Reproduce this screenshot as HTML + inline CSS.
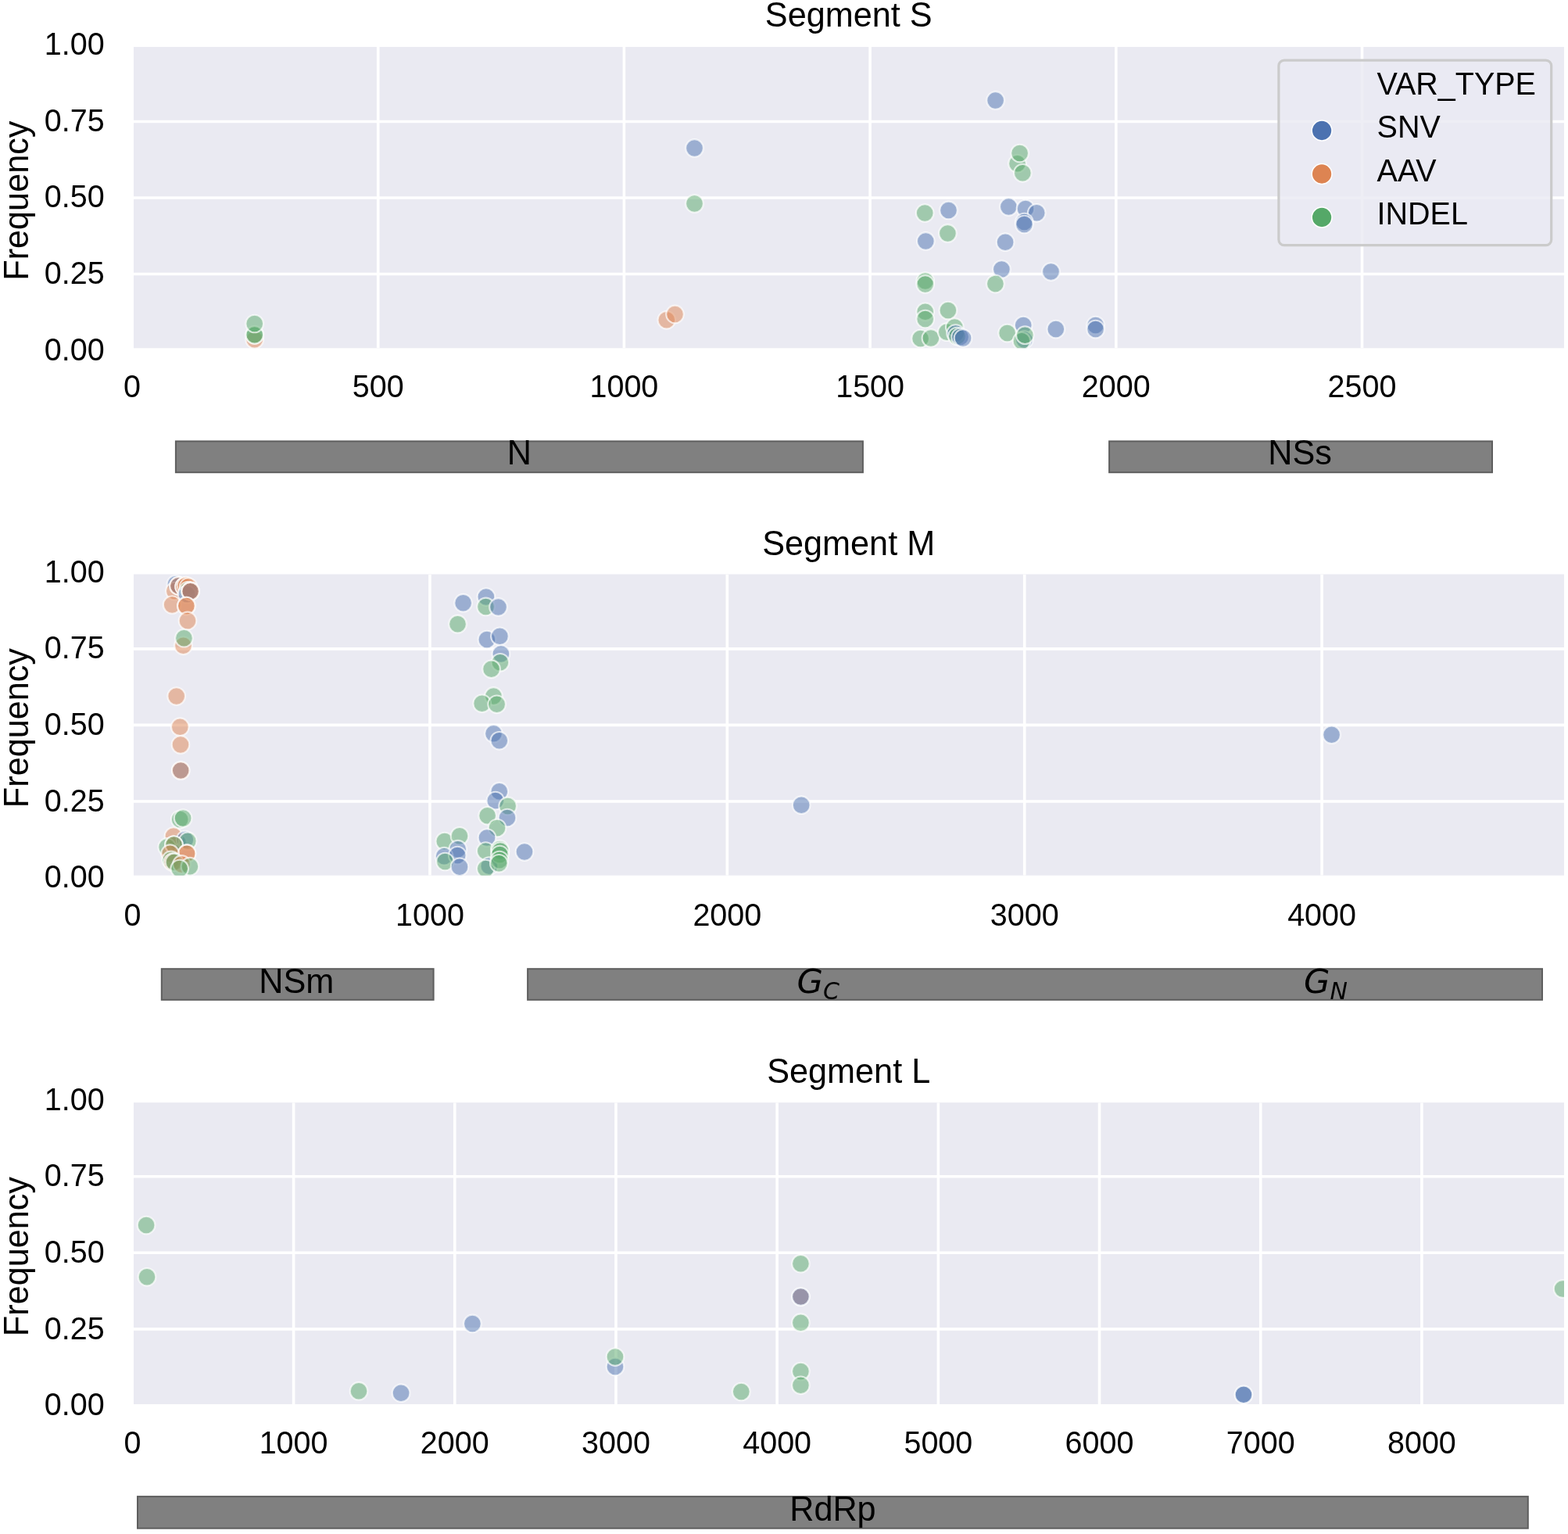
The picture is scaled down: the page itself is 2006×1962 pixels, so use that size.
<!DOCTYPE html>
<html><head><meta charset="utf-8"><title>Segments</title>
<style>html,body{margin:0;padding:0;background:#fff;}svg{display:block;}</style>
</head><body>
<svg width="2006" height="1962" viewBox="0 0 2006 1962">
<defs>
<clipPath id="c0"><rect x="171" y="60" width="1830" height="385.3"/></clipPath>
<clipPath id="c1"><rect x="171" y="734.5" width="1830" height="385.2"/></clipPath>
<clipPath id="c2"><rect x="171" y="1410.2" width="1830" height="385.8"/></clipPath>
</defs>
<rect width="2006" height="1962" fill="#fff"/>
<rect x="171" y="60" width="1830" height="385.3" fill="#EAEAF2"/>
<g clip-path="url(#c0)" stroke="#fff" stroke-width="3.6">
<line x1="483.7" y1="60" x2="483.7" y2="445.3"/>
<line x1="798.4" y1="60" x2="798.4" y2="445.3"/>
<line x1="1113.1" y1="60" x2="1113.1" y2="445.3"/>
<line x1="1427.8" y1="60" x2="1427.8" y2="445.3"/>
<line x1="1742.5" y1="60" x2="1742.5" y2="445.3"/>
<line x1="171" y1="350.55" x2="2001" y2="350.55"/>
<line x1="171" y1="253" x2="2001" y2="253"/>
<line x1="171" y1="155.45" x2="2001" y2="155.45"/>
</g>
<g clip-path="url(#c0)" fill-opacity="0.5" stroke="#fff" stroke-opacity="0.7" stroke-width="2.1">
<circle cx="325.7" cy="434.3" r="11.3" fill="#DD8452"/>
<circle cx="325.7" cy="428" r="11.3" fill="#55A868"/>
<circle cx="325.7" cy="428.6" r="11.3" fill="#55A868"/>
<circle cx="325.7" cy="414" r="11.3" fill="#55A868"/>
<circle cx="852.8" cy="409.3" r="11.3" fill="#DD8452"/>
<circle cx="863.5" cy="401.9" r="11.3" fill="#DD8452"/>
<circle cx="888.5" cy="189.4" r="11.3" fill="#4C72B0"/>
<circle cx="888.5" cy="260.4" r="11.3" fill="#55A868"/>
<circle cx="1183.2" cy="272.5" r="11.3" fill="#55A868"/>
<circle cx="1213.5" cy="268.9" r="11.3" fill="#4C72B0"/>
<circle cx="1212.4" cy="298.4" r="11.3" fill="#55A868"/>
<circle cx="1184.3" cy="308.4" r="11.3" fill="#4C72B0"/>
<circle cx="1183.7" cy="359.5" r="11.3" fill="#55A868"/>
<circle cx="1183.7" cy="363.5" r="11.3" fill="#55A868"/>
<circle cx="1183.7" cy="398.8" r="11.3" fill="#55A868"/>
<circle cx="1183.7" cy="408.1" r="11.3" fill="#55A868"/>
<circle cx="1212.9" cy="397" r="11.3" fill="#55A868"/>
<circle cx="1177.6" cy="433" r="11.3" fill="#55A868"/>
<circle cx="1190.9" cy="432.4" r="11.3" fill="#55A868"/>
<circle cx="1211.3" cy="424.7" r="11.3" fill="#55A868"/>
<circle cx="1221.3" cy="418.6" r="11.3" fill="#55A868"/>
<circle cx="1222.6" cy="426.5" r="11.3" fill="#4C72B0"/>
<circle cx="1224.5" cy="430" r="11.3" fill="#55A868"/>
<circle cx="1228.5" cy="431" r="11.3" fill="#4C72B0"/>
<circle cx="1232" cy="432.5" r="11.3" fill="#4C72B0"/>
<circle cx="1273.6" cy="128.4" r="11.3" fill="#4C72B0"/>
<circle cx="1301.5" cy="209.2" r="11.3" fill="#55A868"/>
<circle cx="1304.6" cy="196.1" r="11.3" fill="#55A868"/>
<circle cx="1308.3" cy="221.3" r="11.3" fill="#55A868"/>
<circle cx="1290.4" cy="264.4" r="11.3" fill="#4C72B0"/>
<circle cx="1312" cy="267" r="11.3" fill="#4C72B0"/>
<circle cx="1326.2" cy="272.3" r="11.3" fill="#4C72B0"/>
<circle cx="1310.4" cy="284" r="11.3" fill="#4C72B0"/>
<circle cx="1310.4" cy="287" r="11.3" fill="#4C72B0"/>
<circle cx="1286.1" cy="309.7" r="11.3" fill="#4C72B0"/>
<circle cx="1281.4" cy="344.6" r="11.3" fill="#4C72B0"/>
<circle cx="1344.5" cy="347.6" r="11.3" fill="#4C72B0"/>
<circle cx="1273.4" cy="363.1" r="11.3" fill="#55A868"/>
<circle cx="1309.2" cy="416.1" r="11.3" fill="#4C72B0"/>
<circle cx="1288.6" cy="426.1" r="11.3" fill="#55A868"/>
<circle cx="1310.4" cy="434.5" r="11.3" fill="#4C72B0"/>
<circle cx="1307" cy="436.2" r="11.3" fill="#55A868"/>
<circle cx="1311.3" cy="428.7" r="11.3" fill="#55A868"/>
<circle cx="1350.8" cy="421.1" r="11.3" fill="#4C72B0"/>
<circle cx="1401.6" cy="416.1" r="11.3" fill="#4C72B0"/>
<circle cx="1401.6" cy="421.1" r="11.3" fill="#4C72B0"/>
</g>
<text transform="translate(169 508.4) scale(1 1.04)" font-family="Liberation Sans, Arial, sans-serif" font-size="39.5" text-anchor="middle">0</text>
<text transform="translate(483.7 508.4) scale(1 1.04)" font-family="Liberation Sans, Arial, sans-serif" font-size="39.5" text-anchor="middle">500</text>
<text transform="translate(798.4 508.4) scale(1 1.04)" font-family="Liberation Sans, Arial, sans-serif" font-size="39.5" text-anchor="middle">1000</text>
<text transform="translate(1113.1 508.4) scale(1 1.04)" font-family="Liberation Sans, Arial, sans-serif" font-size="39.5" text-anchor="middle">1500</text>
<text transform="translate(1427.8 508.4) scale(1 1.04)" font-family="Liberation Sans, Arial, sans-serif" font-size="39.5" text-anchor="middle">2000</text>
<text transform="translate(1742.5 508.4) scale(1 1.04)" font-family="Liberation Sans, Arial, sans-serif" font-size="39.5" text-anchor="middle">2500</text>
<text transform="translate(133.7 70.1) scale(1 1.04)" font-family="Liberation Sans, Arial, sans-serif" font-size="39.5" text-anchor="end">1.00</text>
<text transform="translate(133.7 167.75) scale(1 1.04)" font-family="Liberation Sans, Arial, sans-serif" font-size="39.5" text-anchor="end">0.75</text>
<text transform="translate(133.7 265.4) scale(1 1.04)" font-family="Liberation Sans, Arial, sans-serif" font-size="39.5" text-anchor="end">0.50</text>
<text transform="translate(133.7 363.05) scale(1 1.04)" font-family="Liberation Sans, Arial, sans-serif" font-size="39.5" text-anchor="end">0.25</text>
<text transform="translate(133.7 460.7) scale(1 1.04)" font-family="Liberation Sans, Arial, sans-serif" font-size="39.5" text-anchor="end">0.00</text>
<text transform="translate(1085.7 34.4) scale(1 1.04)" font-family="Liberation Sans, Arial, sans-serif" font-size="43.2" text-anchor="middle">Segment S</text>
<text transform="translate(36.1 256.65) rotate(-90) scale(1 1.04)" font-family="Liberation Sans, Arial, sans-serif" font-size="43.2" text-anchor="middle">Frequency</text>
<rect x="171" y="734.5" width="1830" height="385.2" fill="#EAEAF2"/>
<g clip-path="url(#c1)" stroke="#fff" stroke-width="3.6">
<line x1="549.97" y1="734.5" x2="549.97" y2="1119.7"/>
<line x1="930.34" y1="734.5" x2="930.34" y2="1119.7"/>
<line x1="1310.71" y1="734.5" x2="1310.71" y2="1119.7"/>
<line x1="1691.08" y1="734.5" x2="1691.08" y2="1119.7"/>
<line x1="171" y1="1024.95" x2="2001" y2="1024.95"/>
<line x1="171" y1="927.4" x2="2001" y2="927.4"/>
<line x1="171" y1="829.85" x2="2001" y2="829.85"/>
</g>
<g clip-path="url(#c1)" fill-opacity="0.5" stroke="#fff" stroke-opacity="0.7" stroke-width="2.1">
<circle cx="224.9" cy="747.3" r="11.3" fill="#4C72B0"/>
<circle cx="223.4" cy="756" r="11.3" fill="#DD8452"/>
<circle cx="228.4" cy="749.2" r="11.3" fill="#4C72B0"/>
<circle cx="228.4" cy="749.2" r="11.3" fill="#DD8452"/>
<circle cx="235.6" cy="750.2" r="11.3" fill="#DD8452"/>
<circle cx="235.6" cy="750.2" r="11.3" fill="#DD8452"/>
<circle cx="238" cy="749" r="11.3" fill="#DD8452"/>
<circle cx="241" cy="750.5" r="11.3" fill="#DD8452"/>
<circle cx="240.7" cy="755.2" r="11.3" fill="#55A868"/>
<circle cx="239.1" cy="760" r="11.3" fill="#4C72B0"/>
<circle cx="243.6" cy="756.2" r="11.3" fill="#4C72B0"/>
<circle cx="243.6" cy="756.2" r="11.3" fill="#DD8452"/>
<circle cx="243.6" cy="756.2" r="11.3" fill="#4C72B0"/>
<circle cx="243.6" cy="756.2" r="11.3" fill="#DD8452"/>
<circle cx="220.2" cy="773.5" r="11.3" fill="#DD8452"/>
<circle cx="238.4" cy="775.1" r="11.3" fill="#DD8452"/>
<circle cx="238.4" cy="775.1" r="11.3" fill="#DD8452"/>
<circle cx="240" cy="793.9" r="11.3" fill="#DD8452"/>
<circle cx="234.5" cy="825.8" r="11.3" fill="#DD8452"/>
<circle cx="235.4" cy="816.2" r="11.3" fill="#55A868"/>
<circle cx="225.7" cy="890.6" r="11.3" fill="#DD8452"/>
<circle cx="230.3" cy="929.7" r="11.3" fill="#DD8452"/>
<circle cx="231" cy="952.4" r="11.3" fill="#DD8452"/>
<circle cx="231.2" cy="985.5" r="11.3" fill="#4C72B0"/>
<circle cx="231.2" cy="985.5" r="11.3" fill="#DD8452"/>
<circle cx="227.5" cy="1077.9" r="11.3" fill="#4C72B0"/>
<circle cx="230.2" cy="1048.1" r="11.3" fill="#55A868"/>
<circle cx="234.1" cy="1046.5" r="11.3" fill="#55A868"/>
<circle cx="222" cy="1069.6" r="11.3" fill="#DD8452"/>
<circle cx="236.9" cy="1074" r="11.3" fill="#4C72B0"/>
<circle cx="240.2" cy="1075.7" r="11.3" fill="#55A868"/>
<circle cx="213.7" cy="1083.4" r="11.3" fill="#55A868"/>
<circle cx="222.5" cy="1080.6" r="11.3" fill="#DD8452"/>
<circle cx="222.5" cy="1080.6" r="11.3" fill="#55A868"/>
<circle cx="239.1" cy="1091.7" r="11.3" fill="#DD8452"/>
<circle cx="239.1" cy="1091.7" r="11.3" fill="#DD8452"/>
<circle cx="217.6" cy="1091.7" r="11.3" fill="#DD8452"/>
<circle cx="218.7" cy="1099.9" r="11.3" fill="#55A868"/>
<circle cx="220.9" cy="1102.7" r="11.3" fill="#DD8452"/>
<circle cx="223" cy="1102.7" r="11.3" fill="#55A868"/>
<circle cx="232.4" cy="1105.4" r="11.3" fill="#DD8452"/>
<circle cx="242.9" cy="1108.2" r="11.3" fill="#55A868"/>
<circle cx="229.7" cy="1111" r="11.3" fill="#55A868"/>
<circle cx="592.6" cy="771.2" r="11.3" fill="#4C72B0"/>
<circle cx="621.9" cy="763.6" r="11.3" fill="#4C72B0"/>
<circle cx="621.5" cy="775.9" r="11.3" fill="#55A868"/>
<circle cx="637.5" cy="776.4" r="11.3" fill="#4C72B0"/>
<circle cx="585.5" cy="798.2" r="11.3" fill="#55A868"/>
<circle cx="622.9" cy="818" r="11.3" fill="#4C72B0"/>
<circle cx="639.4" cy="813.8" r="11.3" fill="#4C72B0"/>
<circle cx="640.9" cy="836.5" r="11.3" fill="#4C72B0"/>
<circle cx="639.9" cy="847.3" r="11.3" fill="#55A868"/>
<circle cx="628.6" cy="855.8" r="11.3" fill="#55A868"/>
<circle cx="631.4" cy="890.4" r="11.3" fill="#55A868"/>
<circle cx="616.7" cy="899.8" r="11.3" fill="#55A868"/>
<circle cx="635.6" cy="900.8" r="11.3" fill="#55A868"/>
<circle cx="631.5" cy="938.2" r="11.3" fill="#4C72B0"/>
<circle cx="638.8" cy="947.3" r="11.3" fill="#4C72B0"/>
<circle cx="638.8" cy="1012.2" r="11.3" fill="#4C72B0"/>
<circle cx="633.8" cy="1024.1" r="11.3" fill="#4C72B0"/>
<circle cx="649.6" cy="1030.9" r="11.3" fill="#55A868"/>
<circle cx="623.6" cy="1043.3" r="11.3" fill="#55A868"/>
<circle cx="649" cy="1046.1" r="11.3" fill="#4C72B0"/>
<circle cx="636" cy="1059.1" r="11.3" fill="#55A868"/>
<circle cx="623" cy="1071.5" r="11.3" fill="#4C72B0"/>
<circle cx="621.3" cy="1088.5" r="11.3" fill="#55A868"/>
<circle cx="625.8" cy="1107.7" r="11.3" fill="#4C72B0"/>
<circle cx="621.3" cy="1111.1" r="11.3" fill="#55A868"/>
<circle cx="639.4" cy="1086.2" r="11.3" fill="#55A868"/>
<circle cx="640" cy="1088.5" r="11.3" fill="#55A868"/>
<circle cx="639.4" cy="1093" r="11.3" fill="#55A868"/>
<circle cx="639" cy="1100" r="11.3" fill="#55A868"/>
<circle cx="638.3" cy="1104.3" r="11.3" fill="#55A868"/>
<circle cx="671" cy="1089.6" r="11.3" fill="#4C72B0"/>
<circle cx="568.8" cy="1076" r="11.3" fill="#55A868"/>
<circle cx="588" cy="1069.3" r="11.3" fill="#55A868"/>
<circle cx="585.7" cy="1086.2" r="11.3" fill="#4C72B0"/>
<circle cx="568.2" cy="1095.2" r="11.3" fill="#4C72B0"/>
<circle cx="585.2" cy="1094.1" r="11.3" fill="#4C72B0"/>
<circle cx="569.4" cy="1102" r="11.3" fill="#55A868"/>
<circle cx="588" cy="1108.8" r="11.3" fill="#4C72B0"/>
<circle cx="1025.2" cy="1029.7" r="11.3" fill="#4C72B0"/>
<circle cx="1703.6" cy="939.7" r="11.3" fill="#4C72B0"/>
</g>
<text transform="translate(169.6 1184) scale(1 1.04)" font-family="Liberation Sans, Arial, sans-serif" font-size="39.5" text-anchor="middle">0</text>
<text transform="translate(549.97 1184) scale(1 1.04)" font-family="Liberation Sans, Arial, sans-serif" font-size="39.5" text-anchor="middle">1000</text>
<text transform="translate(930.34 1184) scale(1 1.04)" font-family="Liberation Sans, Arial, sans-serif" font-size="39.5" text-anchor="middle">2000</text>
<text transform="translate(1310.71 1184) scale(1 1.04)" font-family="Liberation Sans, Arial, sans-serif" font-size="39.5" text-anchor="middle">3000</text>
<text transform="translate(1691.08 1184) scale(1 1.04)" font-family="Liberation Sans, Arial, sans-serif" font-size="39.5" text-anchor="middle">4000</text>
<text transform="translate(133.7 744.8) scale(1 1.04)" font-family="Liberation Sans, Arial, sans-serif" font-size="39.5" text-anchor="end">1.00</text>
<text transform="translate(133.7 842.45) scale(1 1.04)" font-family="Liberation Sans, Arial, sans-serif" font-size="39.5" text-anchor="end">0.75</text>
<text transform="translate(133.7 940.1) scale(1 1.04)" font-family="Liberation Sans, Arial, sans-serif" font-size="39.5" text-anchor="end">0.50</text>
<text transform="translate(133.7 1037.75) scale(1 1.04)" font-family="Liberation Sans, Arial, sans-serif" font-size="39.5" text-anchor="end">0.25</text>
<text transform="translate(133.7 1135.4) scale(1 1.04)" font-family="Liberation Sans, Arial, sans-serif" font-size="39.5" text-anchor="end">0.00</text>
<text transform="translate(1085.7 710) scale(1 1.04)" font-family="Liberation Sans, Arial, sans-serif" font-size="43.2" text-anchor="middle">Segment M</text>
<text transform="translate(36.1 931.1) rotate(-90) scale(1 1.04)" font-family="Liberation Sans, Arial, sans-serif" font-size="43.2" text-anchor="middle">Frequency</text>
<rect x="171" y="1410.2" width="1830" height="385.8" fill="#EAEAF2"/>
<g clip-path="url(#c2)" stroke="#fff" stroke-width="3.6">
<line x1="375.59" y1="1410.2" x2="375.59" y2="1796"/>
<line x1="581.78" y1="1410.2" x2="581.78" y2="1796"/>
<line x1="787.97" y1="1410.2" x2="787.97" y2="1796"/>
<line x1="994.16" y1="1410.2" x2="994.16" y2="1796"/>
<line x1="1200.35" y1="1410.2" x2="1200.35" y2="1796"/>
<line x1="1406.54" y1="1410.2" x2="1406.54" y2="1796"/>
<line x1="1612.73" y1="1410.2" x2="1612.73" y2="1796"/>
<line x1="1818.92" y1="1410.2" x2="1818.92" y2="1796"/>
<line x1="171" y1="1699.85" x2="2001" y2="1699.85"/>
<line x1="171" y1="1602.3" x2="2001" y2="1602.3"/>
<line x1="171" y1="1504.75" x2="2001" y2="1504.75"/>
</g>
<g clip-path="url(#c2)" fill-opacity="0.5" stroke="#fff" stroke-opacity="0.7" stroke-width="2.1">
<circle cx="187.1" cy="1567.1" r="11.3" fill="#55A868"/>
<circle cx="188" cy="1633.3" r="11.3" fill="#55A868"/>
<circle cx="459" cy="1779.2" r="11.3" fill="#55A868"/>
<circle cx="513.1" cy="1781.7" r="11.3" fill="#4C72B0"/>
<circle cx="604.4" cy="1692.9" r="11.3" fill="#4C72B0"/>
<circle cx="787" cy="1747.9" r="11.3" fill="#4C72B0"/>
<circle cx="787" cy="1735.6" r="11.3" fill="#55A868"/>
<circle cx="948.3" cy="1780" r="11.3" fill="#55A868"/>
<circle cx="1024.4" cy="1616.2" r="11.3" fill="#55A868"/>
<circle cx="1024.4" cy="1658.6" r="11.3" fill="#DD8452"/>
<circle cx="1024.4" cy="1658.6" r="11.3" fill="#4C72B0"/>
<circle cx="1024.4" cy="1691.7" r="11.3" fill="#55A868"/>
<circle cx="1024.4" cy="1754.1" r="11.3" fill="#55A868"/>
<circle cx="1024.4" cy="1771.8" r="11.3" fill="#55A868"/>
<circle cx="1591" cy="1783.8" r="11.3" fill="#4C72B0"/>
<circle cx="1591" cy="1783.8" r="11.3" fill="#4C72B0"/>
<circle cx="1999.1" cy="1648.4" r="11.3" fill="#55A868"/>
</g>
<text transform="translate(169.4 1859) scale(1 1.04)" font-family="Liberation Sans, Arial, sans-serif" font-size="39.5" text-anchor="middle">0</text>
<text transform="translate(375.59 1859) scale(1 1.04)" font-family="Liberation Sans, Arial, sans-serif" font-size="39.5" text-anchor="middle">1000</text>
<text transform="translate(581.78 1859) scale(1 1.04)" font-family="Liberation Sans, Arial, sans-serif" font-size="39.5" text-anchor="middle">2000</text>
<text transform="translate(787.97 1859) scale(1 1.04)" font-family="Liberation Sans, Arial, sans-serif" font-size="39.5" text-anchor="middle">3000</text>
<text transform="translate(994.16 1859) scale(1 1.04)" font-family="Liberation Sans, Arial, sans-serif" font-size="39.5" text-anchor="middle">4000</text>
<text transform="translate(1200.35 1859) scale(1 1.04)" font-family="Liberation Sans, Arial, sans-serif" font-size="39.5" text-anchor="middle">5000</text>
<text transform="translate(1406.54 1859) scale(1 1.04)" font-family="Liberation Sans, Arial, sans-serif" font-size="39.5" text-anchor="middle">6000</text>
<text transform="translate(1612.73 1859) scale(1 1.04)" font-family="Liberation Sans, Arial, sans-serif" font-size="39.5" text-anchor="middle">7000</text>
<text transform="translate(1818.92 1859) scale(1 1.04)" font-family="Liberation Sans, Arial, sans-serif" font-size="39.5" text-anchor="middle">8000</text>
<text transform="translate(133.7 1419.8) scale(1 1.04)" font-family="Liberation Sans, Arial, sans-serif" font-size="39.5" text-anchor="end">1.00</text>
<text transform="translate(133.7 1517.45) scale(1 1.04)" font-family="Liberation Sans, Arial, sans-serif" font-size="39.5" text-anchor="end">0.75</text>
<text transform="translate(133.7 1615.1) scale(1 1.04)" font-family="Liberation Sans, Arial, sans-serif" font-size="39.5" text-anchor="end">0.50</text>
<text transform="translate(133.7 1712.75) scale(1 1.04)" font-family="Liberation Sans, Arial, sans-serif" font-size="39.5" text-anchor="end">0.25</text>
<text transform="translate(133.7 1810.4) scale(1 1.04)" font-family="Liberation Sans, Arial, sans-serif" font-size="39.5" text-anchor="end">0.00</text>
<text transform="translate(1085.7 1384.5) scale(1 1.04)" font-family="Liberation Sans, Arial, sans-serif" font-size="43.2" text-anchor="middle">Segment L</text>
<text transform="translate(36.1 1607.1) rotate(-90) scale(1 1.04)" font-family="Liberation Sans, Arial, sans-serif" font-size="43.2" text-anchor="middle">Frequency</text>
<rect x="1635.9" y="77.1" width="348.8" height="236.5" rx="7" ry="7" fill="#EAEAF2" fill-opacity="0.8" stroke="#CBCBCB" stroke-width="3.2"/>
<text transform="translate(1761.6 120.8) scale(1 1.04)" font-family="Liberation Sans, Arial, sans-serif" font-size="39.5">VAR_TYPE</text>
<text transform="translate(1761.6 176.3) scale(1 1.04)" font-family="Liberation Sans, Arial, sans-serif" font-size="39.5">SNV</text>
<text transform="translate(1761.6 231.8) scale(1 1.04)" font-family="Liberation Sans, Arial, sans-serif" font-size="39.5">AAV</text>
<text transform="translate(1761.6 287.3) scale(1 1.04)" font-family="Liberation Sans, Arial, sans-serif" font-size="39.5">INDEL</text>
<circle cx="1691.1" cy="167" r="12.9" fill="#4C72B0" stroke="#fff" stroke-width="1.5"/>
<circle cx="1691.1" cy="222.5" r="12.9" fill="#DD8452" stroke="#fff" stroke-width="1.5"/>
<circle cx="1691.1" cy="278" r="12.9" fill="#55A868" stroke="#fff" stroke-width="1.5"/>
<rect x="224.9" y="564.4" width="879" height="39.8" fill="#808080" stroke="#5E5E5E" stroke-width="2"/>
<rect x="1419.1" y="564.4" width="489.9" height="39.8" fill="#808080" stroke="#5E5E5E" stroke-width="2"/>
<rect x="206.8" y="1239.2" width="347.8" height="39.6" fill="#808080" stroke="#5E5E5E" stroke-width="2"/>
<rect x="675.1" y="1239.2" width="1297.9" height="39.6" fill="#808080" stroke="#5E5E5E" stroke-width="2"/>
<rect x="176" y="1914.1" width="1778.8" height="40.6" fill="#808080" stroke="#5E5E5E" stroke-width="2"/>
<text transform="translate(664.4 593.7) scale(1 1.04)" font-family="Liberation Sans, Arial, sans-serif" font-size="43.2" text-anchor="middle">N</text>
<text transform="translate(1663 593.7) scale(1 1.04)" font-family="Liberation Sans, Arial, sans-serif" font-size="43.2" text-anchor="middle">NSs</text>
<text transform="translate(379.3 1269.7) scale(1 1.04)" font-family="Liberation Sans, Arial, sans-serif" font-size="43.2" text-anchor="middle">NSm</text>
<text transform="translate(1065.4 1944.6) scale(1 1.04)" font-family="Liberation Sans, Arial, sans-serif" font-size="43.2" text-anchor="middle">RdRp</text>
<text x="1019.5" y="1270.3" font-family="DejaVu Sans, sans-serif" font-style="italic" font-size="43.2">G<tspan font-size="30" dy="7.4">C</tspan></text>
<text x="1668.1" y="1270.3" font-family="DejaVu Sans, sans-serif" font-style="italic" font-size="43.2">G<tspan font-size="30" dy="7.4">N</tspan></text>
</svg>
</body></html>
